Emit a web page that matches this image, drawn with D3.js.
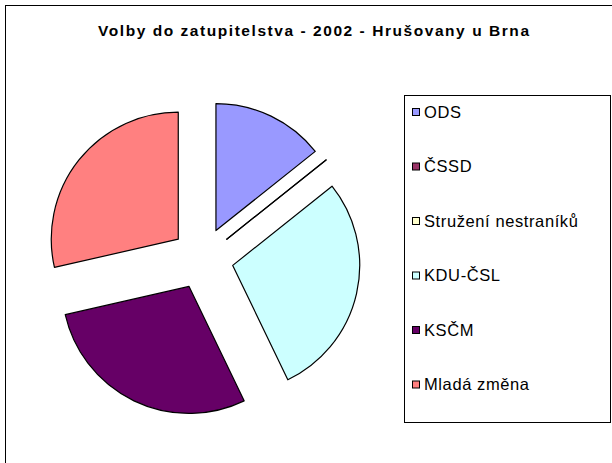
<!DOCTYPE html>
<html>
<head>
<meta charset="utf-8">
<script src="https://cdn.jsdelivr.net/npm/d3@7"></script>
<style>
  body { margin: 0; background: #fff; }
  text { font-family: "Liberation Sans", Arial, sans-serif; fill: #000; }
</style>
</head>
<body>
<svg id="chart" width="612" height="463"></svg>
<script>
const parties = ['ODS', 'ČSSD', 'Stružení nestraníků', 'KDU-ČSL', 'KSČM', 'Mladá změna'];
const seats = [2, 0, 0, 4, 4, 4];
const colors = ['#9999FF', '#993366', '#FFFFCC', '#CCFFFF', '#660066', '#FF8080'];
const title = 'Volby do zatupitelstva - 2002 - Hrušovany u Brna';

const svg = d3.select('#chart');

// outer chart frame (runs off the right/bottom edge)
svg.append('rect')
  .attr('x', 5.5).attr('y', 5.5)
  .attr('width', 700).attr('height', 600)
  .attr('fill', '#fff')
  .attr('stroke', '#000')
  .attr('stroke-width', 1);

svg.append('text')
  .attr('x', 313.5).attr('y', 36)
  .attr('text-anchor', 'middle')
  .attr('font-size', 15.5)
  .attr('font-weight', 'bold')
  .attr('textLength', 431)
  .attr('lengthAdjust', 'spacing')
  .text(title);

// pie
const cx = 202.5, cy = 258.5, radius = 127, explode = 31;
const data = parties.map((p, i) => ({ party: p, value: seats[i], color: colors[i] }));

const pie = d3.pie().sort(null).value(d => d.value);
const arc = d3.arc().innerRadius(0).outerRadius(radius);

const g = svg.append('g').attr('transform', `translate(${cx},${cy})`);

g.selectAll('path')
  .data(pie(data))
  .join('path')
  .attr('d', arc)
  .attr('transform', d => {
    const mid = (d.startAngle + d.endAngle) / 2;
    return `translate(${explode * Math.sin(mid)},${-explode * Math.cos(mid)})`;
  })
  .attr('fill', d => d.data.color)
  .attr('stroke', '#000')
  .attr('stroke-width', 1.2)
  .attr('stroke-linejoin', 'round');

// legend
const legend = svg.append('g');
legend.append('rect')
  .attr('x', 404.5).attr('y', 95.5)
  .attr('width', 206).attr('height', 327)
  .attr('fill', '#fff')
  .attr('stroke', '#000')
  .attr('stroke-width', 1);

const rowY = d3.scalePoint().domain(parties).range([112, 384.5]);

const rows = legend.selectAll('g.row')
  .data(data)
  .join('g')
  .attr('class', 'row')
  .attr('transform', d => `translate(0,${rowY(d.party)})`);

rows.append('rect')
  .attr('x', 412.5).attr('y', -3.5)
  .attr('width', 7).attr('height', 7)
  .attr('fill', d => d.color)
  .attr('stroke', '#000')
  .attr('stroke-width', 1);

rows.append('text')
  .attr('x', 424)
  .attr('dy', '0.36em')
  .attr('font-size', 16.5)
  .attr('letter-spacing', 0.6)
  .text(d => d.party);
</script>
</body>
</html>
